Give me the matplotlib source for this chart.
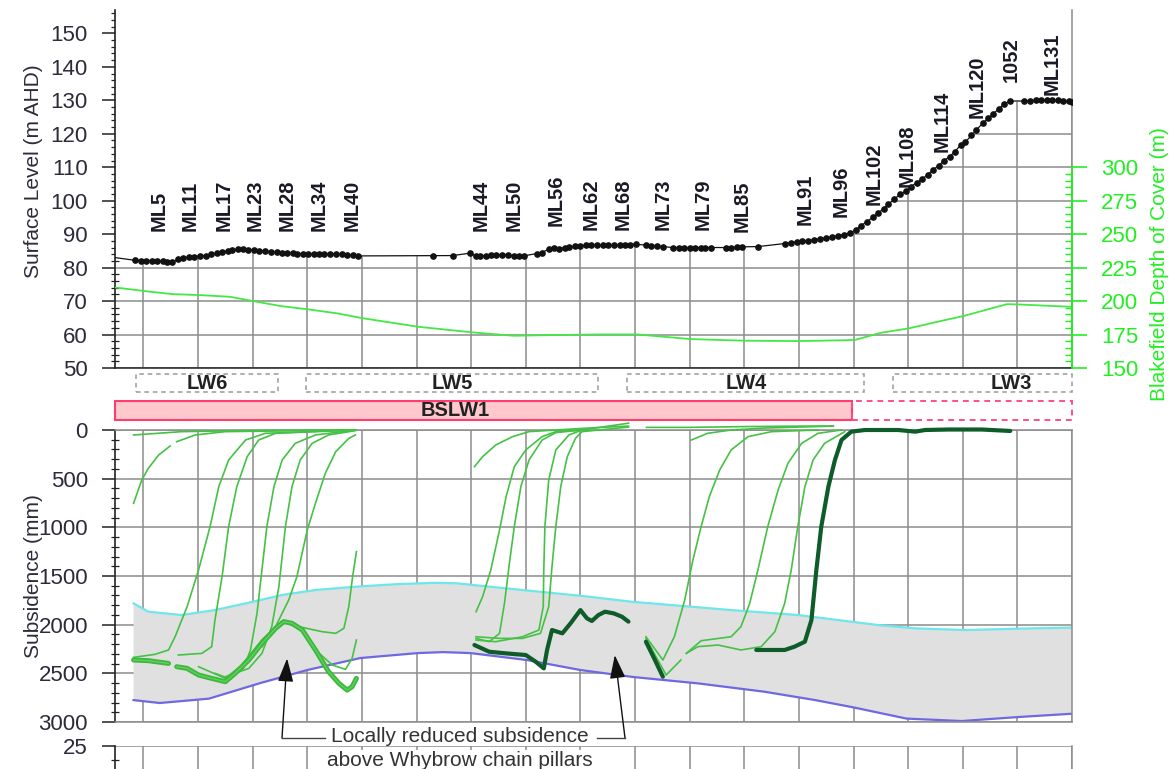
import numpy as np
import matplotlib
matplotlib.use('Agg')
import matplotlib.pyplot as plt
from matplotlib.lines import Line2D
from matplotlib.patches import Rectangle
from matplotlib.transforms import blended_transform_factory
from matplotlib.ticker import MultipleLocator, FixedLocator

plt.rcParams['font.family'] = ['Liberation Sans', 'DejaVu Sans']

# ---------------- data ----------------
# chainage along the monitoring line (m), surface level (m AHD)
surf_start_x = -52
surf_start_lvl = 83.0
surf_x = [-16, -5, 4, 15, 24, 35, 44, 53, 64, 73,
          84, 93, 104, 114, 123, 134, 143, 154, 163, 174,
          183, 192, 203, 212, 223, 233, 244, 253, 262, 273,
          282, 293, 302, 313, 322, 331, 342, 352, 363, 372,
          383, 392,
          531, 566, 597, 608, 617, 628, 637, 646, 657, 667, 678, 687, 696,
          720, 729, 742, 751, 760, 771, 780, 791, 800, 811, 820, 831, 841, 851, 861, 872, 881, 890, 901,
          921, 930, 941, 951, 969, 980, 989, 1000, 1009, 1020, 1029, 1040, 1066, 1075, 1086, 1095, 1126,
          1174, 1185, 1196, 1205, 1216, 1227, 1238, 1249, 1260, 1271,
          1282, 1293, 1304, 1313, 1324, 1335, 1344, 1355, 1364, 1375,
          1385, 1396, 1405, 1416, 1425, 1436, 1445, 1456, 1465, 1476,
          1485, 1496, 1505, 1516, 1525, 1537, 1546, 1555, 1566, 1575, 1586,
          1612, 1623, 1634, 1643, 1654, 1663, 1674, 1683, 1694, 1700]
surf_lvl = [82.2, 82.1, 82.1, 82.0, 82.1, 82.0, 81.7, 81.6, 82.6, 83.0,
            83.1, 83.3, 83.5, 83.6, 84.0, 84.3, 84.6, 85.0, 85.3, 85.5,
            85.5, 85.4, 85.2, 85.1, 84.9, 84.8, 84.6, 84.5, 84.4, 84.3,
            84.2, 84.2, 84.1, 84.1, 84.1, 84.1, 84.1, 84.1, 84.0, 83.9,
            83.7, 83.5,
            83.6, 83.6, 84.3, 83.6, 83.5, 83.6, 83.7, 83.8, 83.9, 83.8, 83.6, 83.5, 83.5,
            84.2, 84.5, 85.5, 86.0, 85.7, 86.0, 86.2, 86.4, 86.6, 86.7, 86.7, 86.7, 86.7, 86.7, 86.7, 86.8, 86.8, 86.8, 87.0,
            86.7, 86.6, 86.4, 86.3, 86.0, 86.0, 86.0, 86.0, 86.0, 86.0, 86.0, 86.0, 86.0, 86.0, 86.1, 86.2, 86.3,
            87.2, 87.5, 87.7, 87.9, 88.1, 88.3, 88.6, 88.9, 89.2, 89.5,
            89.9, 90.4, 91.2, 92.5, 93.7, 95.0, 96.2, 97.6, 99.0, 100.5,
            101.9, 102.8, 104.2, 105.4, 106.4, 107.8, 109.2, 110.5, 111.9, 113.2,
            114.6, 116.6, 117.6, 119.5, 121.2, 123.2, 124.6, 125.8, 127.5, 128.8, 129.8,
            129.8, 129.9, 130.0, 130.0, 130.0, 130.0, 130.0, 129.9, 129.7, 129.5]
assert len(surf_x) == len(surf_lvl)

ml_names = ['ML5', 'ML11', 'ML17', 'ML23', 'ML28', 'ML34', 'ML40', 'ML44', 'ML50', 'ML56',
            'ML62', 'ML68', 'ML73', 'ML79', 'ML85', 'ML91', 'ML96', 'ML102', 'ML108', 'ML114',
            'ML120', '1052', 'ML131']
ml_x = [29, 86, 147, 205, 264, 322, 383, 619, 678, 756,
        819, 879, 951, 1024, 1097, 1212, 1277, 1337, 1399, 1462,
        1526, 1588, 1663]
ml_base = [90.8, 90.8, 90.8, 90.8, 90.8, 90.8, 90.8, 90.8, 90.8, 92.5,
           91.2, 91.2, 91.2, 91.2, 90.7, 92.7, 95.2, 98.7, 104.0, 114.5,
           124.6, 135.5, 131.5]

# Blakefield depth of cover (m)
cover_x = [-52, 4, 53, 102, 159, 201, 251, 302, 355, 403,
           503, 603, 678, 749, 837, 903, 1002, 1101, 1201, 1302,
           1350, 1401, 1462, 1501, 1552, 1581, 1601, 1700]
cover_d = [210.2, 207.4, 205.2, 204.5, 203.2, 200.0, 196.3, 193.8, 190.8, 187.1,
           180.8, 176.6, 174.1, 174.6, 175.1, 175.1, 171.6, 170.4, 170.1, 170.9,
           176.3, 179.6, 185.3, 188.8, 194.5, 197.7, 197.5, 195.7]

# longwall panels
panel_names = ['LW6', 'LW5', 'LW4', 'LW3']
panel_start = [-13, 297, 885, 1372]
panel_end = [247, 833, 1319, 1700]
panel_label_x = [117, 566, 1103, 1588]
bslw_name = 'BSLW1'
bslw_start = -52
bslw_mined_end = 1297
bslw_end = 1700
bslw_label_x = 570

# predicted subsidence range (mm)
upper_x = [-18, 9, 70, 131, 193, 254, 315, 388, 460, 531, 573, 694, 815, 893, 1076, 1198, 1345, 1413, 1504, 1627, 1700]
upper_s = [1781, 1867, 1901, 1850, 1774, 1695, 1644, 1610, 1585, 1570, 1575, 1644, 1712, 1764, 1850, 1901, 2004, 2038, 2055, 2038, 2030]
lower_x = [-18, 30, 120, 214, 300, 397, 502, 549, 599, 703, 800, 897, 1015, 1137, 1229, 1300, 1397, 1498, 1599, 1700]
lower_s = [2775, 2805, 2760, 2600, 2466, 2343, 2292, 2282, 2292, 2364, 2466, 2538, 2603, 2689, 2774, 2850, 2965, 2990, 2950, 2915]

nan = np.nan
# measured subsidence profiles (mm) - LW6 / LW5 area
a_x = [-18, 70, 200, 388]
a_s = [51, 17, 5, 0]
b_x = [-18, -3, 9, 28, 49, nan, 61, 95, 150, 250, 388]
b_s = [753, 514, 394, 257, 164, nan, 120, 51, 17, 10, 0]
c_x = [-18, 21, 46, 58, 80, 101, 122, 138, 156, 187, 223, 388]
c_s = [2336, 2305, 2260, 2124, 1815, 1438, 993, 582, 308, 103, 34, 0]
d_x = [64, 107, 125, 131, 144, 156, 171, 190, 211, 242, 388]
d_s = [2312, 2295, 2226, 1952, 1507, 993, 582, 274, 103, 34, 0]
e_x = [131, 156, 183, 196, 208, 217, 226, 239, 254, 278, 315, 388]
e_s = [2500, 2552, 2449, 2261, 1884, 1438, 993, 582, 308, 137, 51, 0]
f_x = [150, 193, 217, 235, 248, 260, 272, 287, 309, 339, 388]
f_s = [2535, 2449, 2295, 2020, 1610, 993, 582, 308, 137, 51, 7]
g_x = [217, 242, 266, 281, 300, 315, 333, 352, 376, 388]
g_s = [2226, 2020, 1747, 1507, 1027, 753, 445, 223, 86, 51]
h_x = [101, 150, 180, 217, 254, 291, 327, 352, 367, 376, 383, 390]
h_s = [2432, 2552, 2415, 2158, 1962, 2028, 2072, 2089, 2038, 1815, 1507, 1250]
i_x = [180, 217, 254, 291, 315, 346, 370, 382, 390]
i_s = [2415, 2158, 1962, 2050, 2260, 2415, 2459, 2346, 2158]
final1_x = [-18, 9, 46, nan, 61, 80, 101, 125, 150, 168, 193, 217, 242, 257, 272, 291, 315, 339, 358, 373, 382, 390]
final1_s = [2363, 2370, 2398, nan, 2432, 2449, 2517, 2552, 2586, 2500, 2363, 2192, 2038, 1969, 1986, 2055, 2260, 2483, 2603, 2672, 2638, 2552]

# LW4 area
m1_x = [606, 621, 645, 676, 706, 755, 830, 888]
m1_s = [377, 274, 154, 68, 17, 0, -25, -40]
m2_x = [609, 621, 636, 652, 664, 679, 700, 730, 755, 803, 888]
m2_s = [1867, 1712, 1438, 1027, 685, 377, 205, 68, 17, 0, -70]
m3_x = [609, 633, 652, 661, 670, 679, 691, 706, 730, 755, 803]
m3_s = [2141, 2175, 2089, 1781, 1370, 993, 582, 308, 103, 27, 0]
m4_x = [609, 645, 694, 724, 732, 733, 735, 742, 755, 779, 803]
m4_s = [2158, 2175, 2124, 2055, 1815, 1438, 993, 514, 205, 51, 0]
m5_x = [609, 652, 694, 727, 742, 748, 755, 764, 776, 791, 803, 888]
m5_s = [2124, 2141, 2141, 2089, 1815, 1404, 993, 582, 274, 86, 17, -30]
final2_x = [606, 633, 664, 700, 718, 733, 739, 748, 767, 782, 791, 800, 812, 821, 833, 845, 861, 876, 888]
final2_s = [2209, 2278, 2295, 2312, 2380, 2449, 2260, 2055, 2089, 1986, 1918, 1850, 1935, 1962, 1901, 1867, 1884, 1918, 1969]

# LW3 area
rt_x = [921, 1000, 1100, 1200, 1263]
rt_s = [-27, -27, -35, -40, -41]
r1_x = [1003, 1033, 1076, 1137, 1263]
r1_s = [103, 34, 0, -20, -40]
r2_x = [920, 951, 972, 991, 1006, 1021, 1036, 1055, 1076, 1107, 1150, 1235]
r2_s = [2124, 2363, 2124, 1747, 1336, 993, 685, 411, 205, 68, 17, 0]
r3_x = [920, 957, 984, nan, 994, 1021, 1076, 1094, 1110, 1125, 1143, 1162, 1180, 1205, 1235, 1278]
r3_s = [2141, 2517, 2363, nan, 2295, 2165, 2124, 2020, 1781, 1438, 993, 616, 342, 137, 34, 0]
r4_x = [994, 1015, 1052, 1094, 1131, 1156, 1174, 1186, 1198, 1211, 1226, 1247, 1284]
r4_s = [2295, 2226, 2209, 2260, 2226, 2072, 1781, 1438, 993, 582, 308, 137, 17]
final3a_x = [920, 935, 951]
final3a_s = [2175, 2346, 2535]
final3_x = [1122, 1174, 1192, 1211, 1223, 1232, 1241, 1254, 1266, 1278, 1296, 1321, 1382, 1413, 1431, 1474, 1535, 1587]
final3_s = [2260, 2260, 2226, 2175, 1952, 1438, 993, 582, 308, 103, 17, 0, 0, 17, 0, -5, -5, 10]

# annotation targets
note_lines = ['Locally reduced subsidence', 'above Whybrow chain pillars']
note_tips_x = [263, 863]
note_tips_s = [2347, 2313]

# ---------------- layout ----------------
W, H = 1176, 769
fig = plt.figure(figsize=(W / 100, H / 100), dpi=100)


def fx(px):
    return px / W


def fy(py):
    return 1 - py / H


L, R = 115, 1072
TXT = '#2b2b3a'
GRID = '#8c8c8c'
LIME = '#22ee22'
LIGHTG = '#45c145'
DARKG = '#0d5c2a'

XMIN, XMAX = -52, 1700
xgrid = list(range(0, 1701, 100))

ax1 = fig.add_axes([fx(L), fy(368), fx(R) - fx(L), fy(10) - fy(368)])
ax2 = fig.add_axes([fx(L), fy(722), fx(R) - fx(L), fy(430) - fy(722)])
ax3 = fig.add_axes([fx(L), fy(896), fx(R) - fx(L), fy(746) - fy(896)])

for ax in (ax1, ax2, ax3):
    ax.set_xlim(XMIN, XMAX)
    ax.set_xticks(xgrid)
    ax.tick_params(axis='x', which='both', length=0, labelbottom=False, top=False, bottom=False)
    ax.grid(True, color=GRID, lw=1.1)
    ax.tick_params(axis='y', which='major', direction='out', length=9.5, width=1.1,
                   labelsize=16, labelcolor=TXT, color='#222222', pad=10)
    ax.tick_params(axis='y', which='minor', direction='inout', length=6, width=0.9, color='#222222')
    for s in ('top', 'right', 'bottom'):
        ax.spines[s].set_color(GRID)
        ax.spines[s].set_linewidth(1.1)
    ax.spines['left'].set_color('#222222')
    ax.spines['left'].set_linewidth(1.2)

# ---- top panel ----
ax1.set_ylim(50, 157)
ax1.set_yticks(range(50, 151, 10))
ax1.yaxis.set_minor_locator(MultipleLocator(2))
ax1.spines['top'].set_visible(False)
ax1.spines['bottom'].set_color('#222222')
line_x = np.r_[surf_start_x, surf_x]
line_l = np.r_[surf_start_lvl, surf_lvl]
ax1.fill_between(line_x, line_l, 220, color='white', lw=0, zorder=1.6)
ax1.plot(line_x, line_l, color='#111111', lw=0.9, zorder=3)
ax1.plot(surf_x, surf_lvl, ls='none', marker='o', ms=3.8, color='#111111', zorder=3)
for name, x, b in zip(ml_names, ml_x, ml_base):
    ax1.text(x, b, name, rotation=90, ha='center', va='bottom', fontsize=14.5,
             fontweight='bold', color='#1a1a26', zorder=4)
ax1.set_ylabel('Surface Level (m AHD)', fontsize=15, color=TXT)
ax1.yaxis.set_label_coords(-0.075, 0.55)

ax1t = ax1.twinx()
ax1t.set_ylim(150, 150 + (157 - 50) * 2.5)
ax1t.set_yticks(range(150, 301, 25))
ax1t.yaxis.set_minor_locator(FixedLocator(range(150, 301, 5)))
ax1t.tick_params(axis='x', which='both', length=0, top=False, bottom=False,
                 labeltop=False, labelbottom=False)
for s in ('top', 'left', 'bottom'):
    ax1t.spines[s].set_visible(False)
ax1t.spines['right'].set_bounds(150, 300)
ax1t.spines['right'].set_color(LIME)
ax1t.spines['right'].set_linewidth(1.3)
ax1t.tick_params(axis='y', which='major', direction='out', length=11, width=1.2,
                 colors=LIME, labelsize=16, pad=10)
ax1t.tick_params(axis='y', which='minor', direction='in', length=5, width=1.0, colors=LIME)
ax1t.plot(cover_x, cover_d, color='#44e844', lw=1.3)
ax1t.set_ylabel('Blakefield Depth of Cover (m)', fontsize=15, color=LIME)
ax1t.yaxis.set_label_coords(1.082, 0.29)

# ---- subsidence panel ----
ax2.set_ylim(3000, 0)
ax2.set_yticks(range(0, 3001, 500))
ax2.yaxis.set_minor_locator(MultipleLocator(100))
ax2.set_ylabel('Subsidence (mm)', fontsize=15, color=TXT)
ax2.yaxis.set_label_coords(-0.075, 0.5)

ax2.fill(np.r_[upper_x, lower_x[::-1]], np.r_[upper_s, lower_s[::-1]],
         color='#e0e0e0', lw=0, zorder=1.7)
ax2.plot(upper_x, upper_s, color='#6fe6ea', lw=1.6, zorder=2)
ax2.plot(lower_x, lower_s, color='#7068e0', lw=1.6, zorder=2)

thin = [(a_x, a_s), (b_x, b_s), (c_x, c_s), (d_x, d_s), (e_x, e_s), (f_x, f_s),
        (g_x, g_s), (h_x, h_s), (i_x, i_s),
        (m1_x, m1_s), (m2_x, m2_s), (m3_x, m3_s), (m4_x, m4_s), (m5_x, m5_s),
        (rt_x, rt_s), (r1_x, r1_s), (r2_x, r2_s), (r3_x, r3_s), (r4_x, r4_s)]
for xs, ss in thin:
    ax2.plot(np.array(xs, float), np.array(ss, float), color=LIGHTG, lw=1.2,
             zorder=3, clip_on=False)
ax2.plot(np.array(final1_x, float), np.array(final1_s, float), color='#3cb83c',
         lw=3.6, zorder=3.5, solid_capstyle='round')
ax2.plot(np.array(final1_x, float), np.array(final1_s, float), color='#5fd05f',
         lw=1.0, zorder=3.6)
for xs, ss in [(final2_x, final2_s), (final3a_x, final3a_s), (final3_x, final3_s)]:
    ax2.plot(xs, ss, color=DARKG, lw=3.0, zorder=4, clip_on=False,
             solid_capstyle='round')

# ---- partial lower panel ----
ax3.set_ylim(-28.6, 25)
ax3.set_yticks([25])
ax3.yaxis.set_minor_locator(MultipleLocator(5))
ax3.spines['top'].set_visible(False)

# ---- longwall strip ----
trans = blended_transform_factory(ax2.transData, fig.transFigure)
for name, x0, x1, xl in zip(panel_names, panel_start, panel_end, panel_label_x):
    ax2.add_patch(Rectangle((x0, fy(392)), x1 - x0, fy(374) - fy(392), transform=trans,
                            fill=False, ec='#9a9a9a', lw=1.1, ls=(0, (3, 2.5)),
                            clip_on=False))
    ax2.text(xl, fy(383.5), name, transform=trans, ha='center', va='center',
             fontsize=14.5, fontweight='bold', color='#222222', clip_on=False)
ax2.add_patch(Rectangle((bslw_start, fy(419.5)), bslw_mined_end - bslw_start,
                        fy(401.5) - fy(419.5), transform=trans, fc='#ffc8cc',
                        ec='#ff3d6e', lw=1.5, clip_on=False))
ax2.add_patch(Rectangle((bslw_mined_end, fy(419.5)), bslw_end - bslw_mined_end,
                        fy(401.5) - fy(419.5), transform=trans, fill=False,
                        ec='#ff4d88', lw=1.4, ls=(0, (3, 2.5)), clip_on=False))
ax2.text(bslw_label_x, fy(411), bslw_name, transform=trans, ha='center', va='center',
         fontsize=14.5, fontweight='bold', color='#222222', clip_on=False)

# ---- annotation ----
fig.text(fx(460), fy(737), note_lines[0], ha='center', va='center', fontsize=15,
         color='#333333')
fig.text(fx(460), fy(761), note_lines[1], ha='center', va='center', fontsize=15,
         color='#333333', bbox=dict(fc='white', ec='none', pad=1.0))
for (hx0, hx1), tx, ts in zip([(325, 282), (597, 625)], note_tips_x, note_tips_s):
    fig.add_artist(Line2D([fx(hx0), fx(hx1)], [fy(738), fy(738)], transform=fig.transFigure,
                          color='#444444', lw=1.0))
    ax2.annotate('', xy=(tx, ts), xycoords='data', xytext=(hx1, H - 738),
                 textcoords='figure pixels', annotation_clip=False,
                 arrowprops=dict(arrowstyle='-|>,head_length=0.9,head_width=0.3',
                                 color='#111111', lw=1.0, shrinkA=0, shrinkB=0,
                                 mutation_scale=16))

fig.savefig('out.png', dpi=100)
